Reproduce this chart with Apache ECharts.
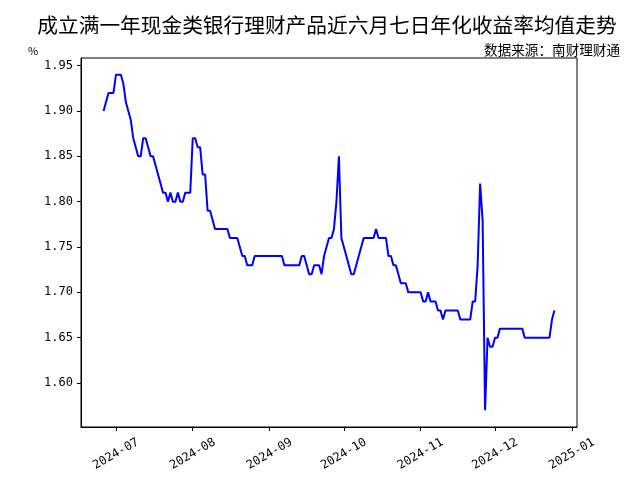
<!DOCTYPE html>
<html><head><meta charset="utf-8">
<script src="https://cdn.jsdelivr.net/npm/echarts@6/dist/echarts.min.js"></script>
<style>html,body{margin:0;padding:0;background:#fff}#c{width:640px;height:480px}</style>
</head><body><div id="c"></div>
<script>
// ---- data ----
const titleText = '成立满一年现金类银行理财产品近六月七日年化收益率均值走势';
const sourceText = '数据来源：南财理财通';
const unitText = '%';
const startDay = [2024, 5, 26]; // 2024-06-26, daily series
const values = [
  1.90,1.91,1.92,1.92,1.92,1.94,1.94,1.94,1.93,1.91,
  1.90,1.89,1.87,1.86,1.85,1.85,1.87,1.87,1.86,1.85,
  1.85,1.84,1.83,1.82,1.81,1.81,1.80,1.81,1.80,1.80,
  1.81,1.80,1.80,1.81,1.81,1.81,1.87,1.87,1.86,1.86,
  1.83,1.83,1.79,1.79,1.78,1.77,1.77,1.77,1.77,1.77,
  1.77,1.76,1.76,1.76,1.76,1.75,1.74,1.74,1.73,1.73,
  1.73,1.74,1.74,1.74,1.74,1.74,1.74,1.74,1.74,1.74,
  1.74,1.74,1.74,1.73,1.73,1.73,1.73,1.73,1.73,1.73,
  1.74,1.74,1.73,1.72,1.72,1.73,1.73,1.73,1.72,1.74,
  1.75,1.76,1.76,1.77,1.80,1.85,1.76,1.75,1.74,1.73,
  1.72,1.72,1.73,1.74,1.75,1.76,1.76,1.76,1.76,1.76,
  1.77,1.76,1.76,1.76,1.76,1.74,1.74,1.73,1.73,1.72,
  1.71,1.71,1.71,1.70,1.70,1.70,1.70,1.70,1.70,1.69,
  1.69,1.70,1.69,1.69,1.69,1.68,1.68,1.67,1.68,1.68,
  1.68,1.68,1.68,1.68,1.67,1.67,1.67,1.67,1.67,1.69,
  1.69,1.73,1.82,1.78,1.57,1.65,1.64,1.64,1.65,1.65,
  1.66,1.66,1.66,1.66,1.66,1.66,1.66,1.66,1.66,1.66,
  1.65,1.65,1.65,1.65,1.65,1.65,1.65,1.65,1.65,1.65,
  1.65,1.67,1.68
];
const yTicks = [1.60, 1.65, 1.70, 1.75, 1.80, 1.85, 1.90, 1.95];
const xTicks = [[2024,6,1],[2024,7,1],[2024,8,1],[2024,9,1],[2024,10,1],[2024,11,1],[2025,0,1]];

// ---- build ----
const dayTs = i => new Date(startDay[0], startDay[1], startDay[2] + i).getTime();
const seriesData = values.map((v, i) => [dayTs(i), v]);
const tFirst = dayTs(0), tLast = dayTs(values.length - 1);
const span = tLast - tFirst;
const xMin = tFirst - 0.05 * span, xMax = tLast + 0.05 * span;
const vMin = Math.min(...values), vMax = Math.max(...values);
const vSpan = vMax - vMin;
const yMin = vMin - 0.05 * vSpan, yMax = vMax + 0.05 * vSpan;
const xTickVals = xTicks.map(d => new Date(d[0], d[1], d[2]).getTime());
const pad = n => (n < 10 ? '0' : '') + n;
const fontMono = 'DejaVu Sans Mono';
const fontCJK = '"Noto Sans CJK SC", sans-serif';

const chart = echarts.init(document.getElementById('c'), null, {renderer: 'canvas'});
chart.setOption({
  animation: false,
  backgroundColor: '#fff',
  grid: {left: 81, right: 63, top: 58, bottom: 53, show: true, borderColor: '#000', borderWidth: 1, backgroundColor: 'transparent'},
  xAxis: {
    type: 'value', min: xMin, max: xMax, scale: true,
    splitLine: {show: false},
    axisLine: {show: true, lineStyle: {color: '#000', width: 1}},
    axisTick: {show: true, customValues: xTickVals, length: 4, lineStyle: {color: '#000'}},
    axisLabel: {
      customValues: xTickVals, rotate: 30, margin: 27, color: '#000',
      align: 'center', verticalAlign: 'middle',
      fontFamily: fontMono, fontSize: 12,
      formatter: v => { const d = new Date(v); return d.getFullYear() + '-' + pad(d.getMonth() + 1); }
    }
  },
  yAxis: {
    type: 'value', min: yMin, max: yMax,
    splitLine: {show: false},
    axisLine: {show: true, lineStyle: {color: '#000', width: 1}},
    axisTick: {show: true, customValues: yTicks, length: 4, lineStyle: {color: '#000'}},
    axisLabel: {customValues: yTicks, color: '#000', fontFamily: fontMono, fontSize: 12, margin: 8,
      formatter: v => Number(v).toFixed(2)}
  },
  graphic: [
    {type: 'text', x: 327, y: 25, style: {text: titleText, fill: '#000', font: '20.7px ' + fontCJK, textAlign: 'center', textVerticalAlign: 'middle'}},
    {type: 'text', x: 620, y: 50, style: {text: sourceText, fill: '#000', font: '13.6px ' + fontCJK, textAlign: 'right', textVerticalAlign: 'middle'}},
    {type: 'text', x: 33, y: 51, style: {text: unitText, fill: '#000', font: '11px ' + fontCJK, textAlign: 'center', textVerticalAlign: 'middle'}}
  ],
  series: [{
    type: 'line', data: seriesData, showSymbol: false, symbol: 'none',
    lineStyle: {color: '#0000ff', width: 2}, itemStyle: {color: '#0000ff'}
  }]
});
</script></body></html>
